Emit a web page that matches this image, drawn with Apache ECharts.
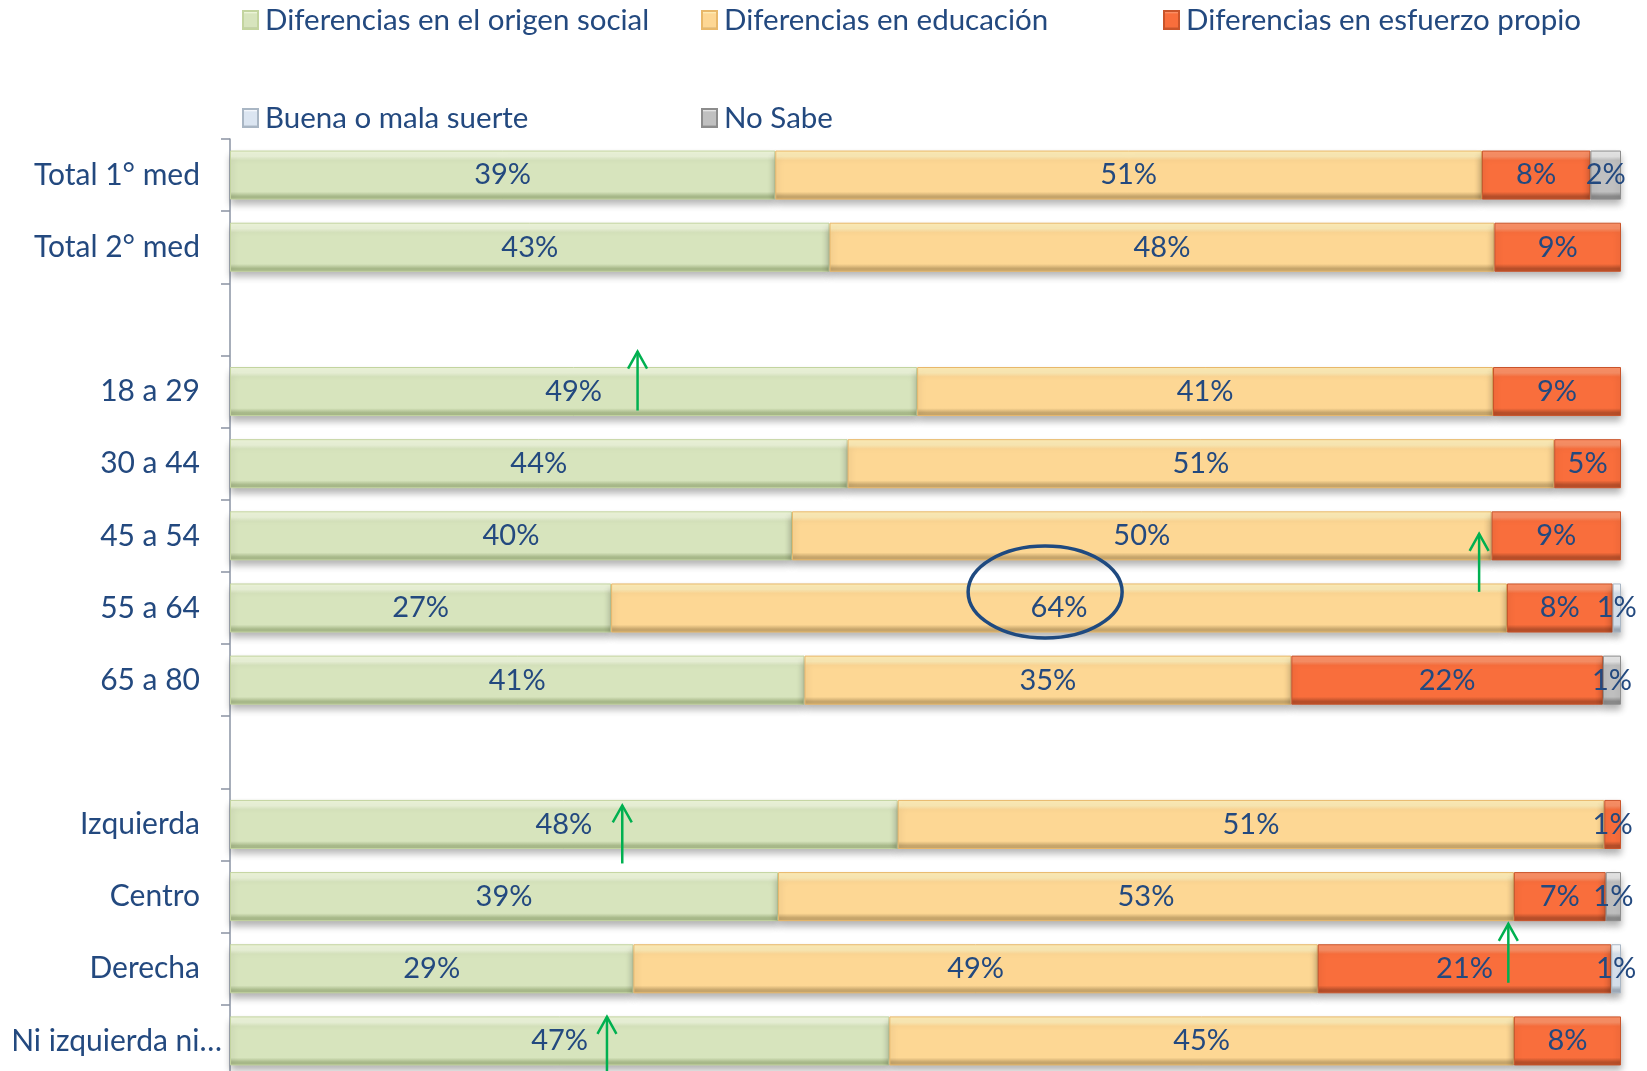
<!DOCTYPE html>
<html>
<head>
<meta charset="utf-8">
<title>Diferencias</title>
<script src="https://cdn.jsdelivr.net/npm/echarts@6/dist/echarts.min.js"></script>
<style>
  html, body { margin: 0; padding: 0; background: #fff; }
  #main { width: 1647px; height: 1071px; }
</style>
</head>
<body>
<div id="main"></div>
<script>
// categorias (filas vacias = separadores)
var categories = ['Total 1° med', 'Total 2° med', ' ', '18 a 29', '30 a 44', '45 a 54', '55 a 64', '65 a 80', '  ', 'Izquierda', 'Centro', 'Derecha', 'Ni izquierda ni…'];

// valores en %
var origenSocial = [39.2, 43.1, '-', 49.4, 44.4, 40.4, 27.4, 41.3, '-', 48.0, 39.4, 29.0, 47.4];
var educacion    = [50.8, 47.8, '-', 41.4, 50.8, 50.3, 64.4, 35.0, '-', 50.8, 52.9, 49.2, 44.9];
var esfuerzo     = [7.8, 9.1, '-', 9.2, 4.8, 9.3, 7.6, 22.4, '-', 1.2, 6.6, 21.1, 7.7];
var suerte       = ['-', '-', '-', '-', '-', '-', 0.6, '-', '-', '-', '-', 0.7, '-'];
var noSabe       = [2.2, '-', '-', '-', '-', '-', '-', 1.3, '-', '-', 1.1, '-', '-'];

var seriesNames = ['Diferencias en el origen social', 'Diferencias en educación', 'Diferencias en esfuerzo propio', 'Buena o mala suerte', 'No Sabe'];

var FONT = 'Lato';
var TXT = '#23497f';

// degradado tipo bisel: claro arriba, oscuro abajo
function bevel(light, base, dark) {
    return new echarts.graphic.LinearGradient(0, 0, 0, 1, [
        {offset: 0, color: light},
        {offset: 0.12, color: light},
        {offset: 0.2, color: base},
        {offset: 0.84, color: base},
        {offset: 0.93, color: dark},
        {offset: 1, color: dark}
    ]);
}

var colors = [
    bevel('#edf5da', '#d7e4bd', '#a8b98a'),
    bevel('#feecb6', '#fdd794', '#c7a66c'),
    bevel('#fb9066', '#f96e3c', '#b84f2a'),
    bevel('#f5f8fc', '#dbe5f1', '#a3afbd'),
    bevel('#e6e6e6', '#c0c0c0', '#8a8a8a')
];
var borders = ['#c3d49f', '#e8b86a', '#c9542a', '#a9b6c4', '#8c8c8c'];

function makeSeries(i, data) {
    return {
        name: seriesNames[i],
        type: 'bar',
        stack: 'total',
        barWidth: '68%',
        data: data,
        itemStyle: {
            color: colors[i],
            borderColor: borders[i],
            borderWidth: 1,
            shadowColor: 'rgba(0,0,0,0.3)',
            shadowBlur: 7,
            shadowOffsetY: 5
        },
        label: {
            show: true,
            position: 'inside',
            fontFamily: FONT,
            fontSize: 29,
            color: TXT,
            formatter: function (p) {
                if (p.value === '-' || p.value == null) return '';
                return Math.round(p.value) + '%';
            }
        }
    };
}

var legendText = {fontFamily: FONT, fontSize: 29.5, color: TXT, lineHeight: 34, padding: [0, 0, 0, 2]};
function legendAt(left, names) {
    return {
        left: left,
        top: -2,
        orient: 'vertical',
        itemWidth: 15,
        itemHeight: 18,
        itemGap: 64,
        icon: 'rect',
        selectedMode: false,
        textStyle: legendText,
        data: names
    };
}

var chart = echarts.init(document.getElementById('main'));
var option = {
    animation: false,
    backgroundColor: '#fff',
    legend: [
        legendAt(237, [seriesNames[0], seriesNames[3]]),
        legendAt(696, [seriesNames[1], seriesNames[4]]),
        legendAt(1158, [seriesNames[2]])
    ],
    grid: {left: 230, right: 26, top: 139, bottom: -6, containLabel: false, outerBoundsMode: 'none'},
    xAxis: {
        type: 'value', min: 0, max: 100, show: false
    },
    yAxis: {
        type: 'category',
        inverse: true,
        data: categories,
        axisLine: {show: true, lineStyle: {color: '#8a93a3', width: 1.5}},
        axisTick: {show: true, length: 9, lineStyle: {color: '#8a93a3', width: 1.5}},
        axisLabel: {
            fontFamily: FONT, fontSize: 30, color: TXT, margin: 30,
            // la etiqueta truncada sobresale hacia el eje, como en el original
            formatter: function (v, i) {
                return i === categories.length - 1 ? '{ni|' + v + '}' : v;
            },
            rich: {ni: {fontFamily: FONT, fontSize: 30, color: TXT, padding: [0, -22, 0, 0]}}
        }
    },
    series: [
        makeSeries(0, origenSocial),
        makeSeries(1, educacion),
        makeSeries(2, esfuerzo),
        makeSeries(3, suerte),
        makeSeries(4, noSabe)
    ]
};
chart.setOption(option);

// anotaciones: flechas verdes [valor x, fila, punta dy, cola dy] y elipse
var flechas = [
    [29.3, 3, -40, 19],
    [89.8, 5, -2, 56],
    [28.2, 9, -19, 39],
    [91.9, 11, -45, 14],
    [27.1, 12, -24, 40]
];
var elipse = [58.6, 6, -16, 77, 46];

var graphics = [];
flechas.forEach(function (f) {
    var p = chart.convertToPixel({gridIndex: 0}, [f[0], f[1]]);
    var x = p[0], tip = p[1] + f[2], tail = p[1] + f[3];
    graphics.push({
        type: 'polyline', z: 100,
        shape: {points: [[x, tail], [x, tip]]},
        style: {stroke: '#00b050', lineWidth: 2.5, fill: null}
    });
    graphics.push({
        type: 'polyline', z: 100,
        shape: {points: [[x - 9.5, tip + 17], [x, tip], [x + 9.5, tip + 17]]},
        style: {stroke: '#00b050', lineWidth: 2.5, fill: null}
    });
});
var pe = chart.convertToPixel({gridIndex: 0}, [elipse[0], elipse[1]]);
graphics.push({
    type: 'ellipse', z: 100,
    shape: {cx: pe[0], cy: pe[1] + elipse[2], rx: elipse[3], ry: elipse[4]},
    style: {stroke: '#1f4a80', lineWidth: 3.5, fill: null}
});
chart.setOption({graphic: graphics});
</script>
</body>
</html>
